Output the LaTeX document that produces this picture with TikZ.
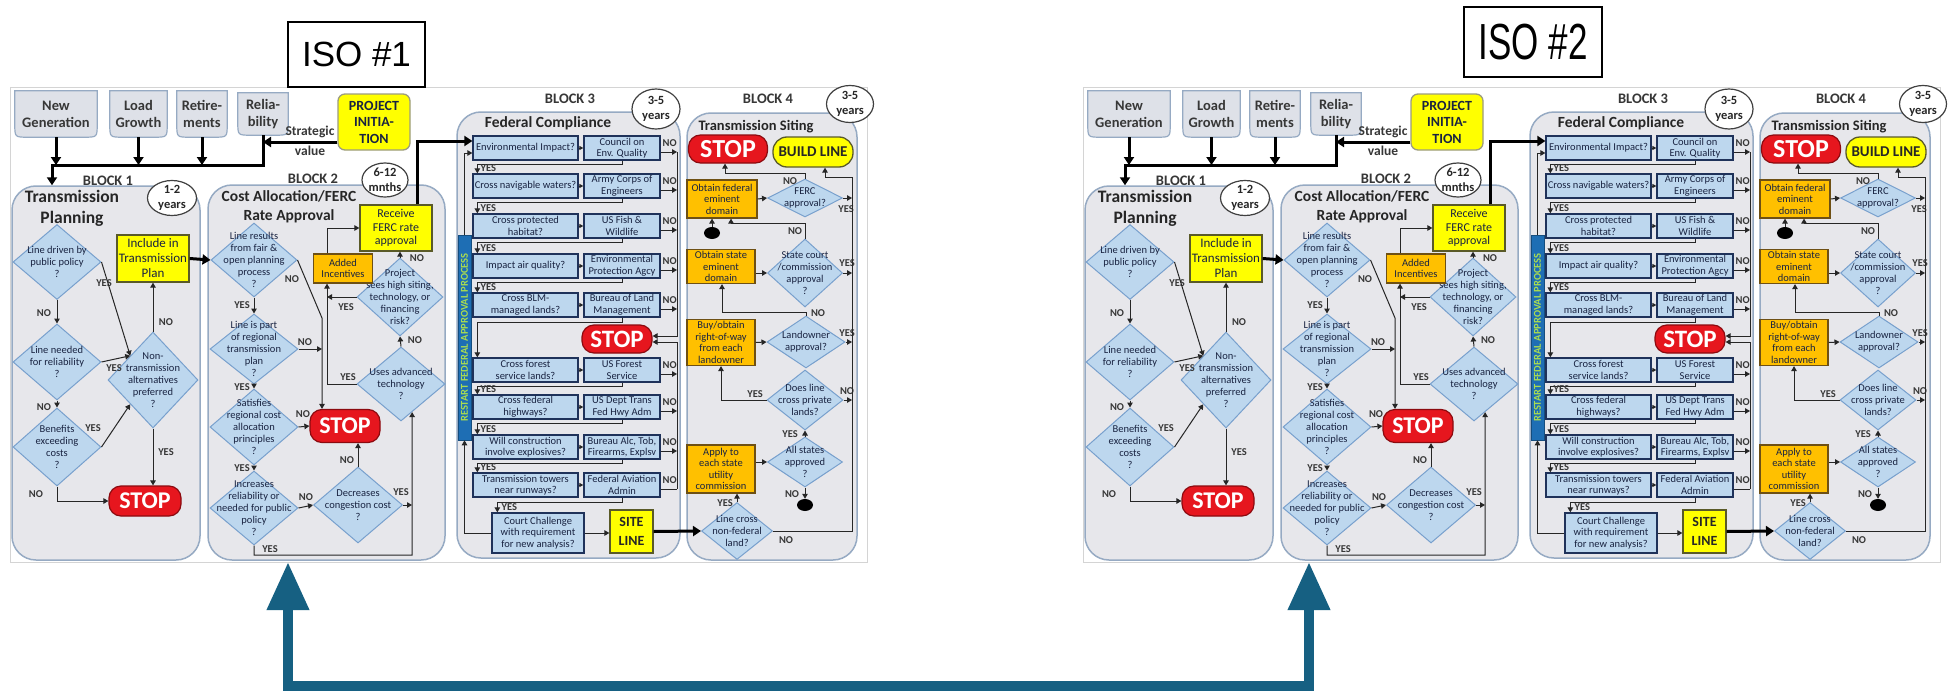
\documentclass[tikz,border=0pt]{standalone}
\usepackage{fontspec}
\setmainfont{Carlito}
\newfontfamily\isofont{Liberation Sans}
\usetikzlibrary{arrows.meta,shapes.geometric,calc}
\pgfdeclarelayer{background}
\pgfsetlayers{background,main}

\definecolor{panelfill}{RGB}{231,231,235}
\definecolor{paneledge}{RGB}{150,170,195}
\definecolor{tabfill}{RGB}{222,225,232}
\definecolor{diafill}{RGB}{189,215,238}
\definecolor{diaedge}{RGB}{120,160,205}
\definecolor{boxedge}{RGB}{31,50,90}
\definecolor{navytext}{RGB}{25,35,65}
\definecolor{labgray}{RGB}{55,55,55}
\definecolor{stopred}{RGB}{230,22,30}
\definecolor{stopedge}{RGB}{140,10,15}
\definecolor{ylw}{RGB}{255,255,0}
\definecolor{ylwedge}{RGB}{90,90,40}
\definecolor{orng}{RGB}{255,192,0}
\definecolor{orngedge}{RGB}{110,80,20}
\definecolor{barblue}{RGB}{30,110,180}
\definecolor{bartext}{RGB}{170,220,80}
\definecolor{linkblue}{RGB}{22,96,130}
\definecolor{framegray}{RGB}{212,212,212}

\newcommand\fsz[2]{\fontsize{#1}{#2}\selectfont}

% tab outline: square top, rounded bottom corners
\newcommand\tabframe[1]{%
  \draw[draw=paneledge, fill=tabfill, line width=1.2pt]
    (#1.north west) -- (#1.north east) -- ([yshift=13pt]#1.south east)
    .. controls (#1.south east) .. ([xshift=-13pt]#1.south east)
    -- ([xshift=13pt]#1.south west)
    .. controls (#1.south west) .. ([yshift=13pt]#1.south west) -- cycle;}

\tikzset{
  panel/.style={draw=paneledge, fill=panelfill, line width=1.5pt, rounded corners=24pt, inner sep=0pt},
  srctab/.style={inner sep=0pt, align=center, font=\bfseries\fsz{14.5}{17}, text=labgray},
  blk/.style={font=\bfseries\fsz{14.5}{17}, text=labgray, inner sep=0pt},
  ttl/.style={font=\bfseries\fsz{15.5}{19.5}, text=black!85, align=center, inner sep=0pt},
  yrs/.style={ellipse, draw=black!75, fill=white, line width=1.2pt, inner sep=0pt},
  ytx/.style={align=center, font=\bfseries\fsz{12.5}{15}, text=black!85, inner sep=0pt},
  dia/.style={diamond, draw=diaedge, fill=diafill, line width=1pt, inner sep=0pt},
  dtx/.style={align=center, font=\fsz{10.5}{12}, text=navytext, inner sep=0pt},
  qbox/.style={draw=boxedge, fill=diafill, line width=1.3pt, inner sep=1pt, align=center,
    font=\fsz{10.5}{11.5}, text=navytext, minimum height=24pt},
  ybox/.style={draw=ylwedge, fill=ylw, line width=1.3pt, inner sep=1pt, align=center, text=navytext},
  obox/.style={draw=orngedge, fill=orng, line width=1.2pt, inner sep=1pt, align=center,
    font=\fsz{10.5}{11.5}, text=navytext},
  stopsign/.style={draw=stopedge, fill=stopred, line width=1.2pt, rounded corners=12pt,
    text=white, font=\bfseries\fsz{24}{24}, inner sep=0pt},
  restartbar/.style={fill=barblue, draw=barblue!70!black, line width=0.6pt, rotate=90,
    minimum width=205pt, minimum height=13pt, inner sep=0pt, text=bartext, font=\bfseries\fsz{10.5}{11}},
  yn/.style={font=\bfseries\fsz{10.5}{11}, text=labgray, inner sep=0pt},
  ln/.style={draw=black!85, line width=1pt},
  arr/.style={ln, -{Triangle[width=5.5pt,length=5pt]}},
  arrs/.style={ln, -{Triangle[width=4pt,length=4pt]}},
  thk/.style={draw=black, line width=3pt},
  thkarr/.style={thk, -{Triangle[width=10pt,length=8pt]}},
  dotend/.style={ellipse, fill=black, minimum width=16pt, minimum height=12pt, inner sep=0pt},
  isobox/.style={draw=black, line width=1.6pt, fill=white, inner sep=0pt, font=\isofont\fsz{35}{40}},
  linkarrow/.style={draw=linkblue, line width=10pt,
    {Triangle[width=40pt,length=48pt]}-{Triangle[width=40pt,length=48pt]}},
}

% one complete transmission planning flow chart
\newcommand\isoflow{%
  \draw[framegray, line width=0.8pt] (10,87) rectangle (867,562);
  % block panels
  \node[panel, minimum width=188pt, minimum height=374pt] (p1) at (106,373) {};
  \node[panel, minimum width=237pt, minimum height=375pt] (p2) at (326.5,372.5) {};
  \node[panel, minimum width=223pt, minimum height=446pt] (p3) at (568.5,335) {};
  \node[panel, minimum width=170pt, minimum height=447pt] (p4) at (772,336.5) {};
  % input tabs
  \node[srctab, minimum width=82pt, minimum height=46pt] (ng) at (56,114) {New\\Generation};
  \node[srctab, minimum width=57pt, minimum height=46pt] (lg) at (138.5,114) {Load\\Growth};
  \node[srctab, minimum width=50pt, minimum height=46pt] (rt) at (202,114) {Retire-\\ments};
  \node[srctab, minimum width=50pt, minimum height=42pt] (rl) at (263,114) {Relia-\\bility};
  \begin{pgfonlayer}{background}
    \tabframe{ng}\tabframe{lg}\tabframe{rt}\tabframe{rl}
  \end{pgfonlayer}
  \node[ybox, rounded corners=7pt, draw=ylwedge!60, minimum width=72pt, minimum height=56pt,
    font=\bfseries\fsz{14}{16.5}] (pi) at (374,122) {PROJECT\\INITIA-\\TION};
  \node[inner sep=0pt, align=center, font=\bfseries\fsz{13.5}{20}, text=labgray] (sval) at (310,141) {Strategic\\value};
  \coordinate (busL) at (52,165);
  \coordinate (busR) at (263,165);
  \coordinate (sv) at (263,142);
  % block headings
  \node[blk] (bl1) at (108,181) {BLOCK 1};
  \node[blk] (bl2) at (313,179) {BLOCK 2};
  \node[blk] (bl3) at (570,99) {BLOCK 3};
  \node[blk] (bl4) at (768,99) {BLOCK 4};
  \node[yrs, minimum width=49pt, minimum height=35pt, label={[ytx]center:{1-2\\years}}] (y1) at (172,198) {};
  \node[yrs, minimum width=46pt, minimum height=34pt, label={[ytx]center:{6-12\\mnths}}] (y2) at (385,180) {};
  \node[yrs, minimum width=48pt, minimum height=40pt, label={[ytx]center:{3-5\\years}}] (y3) at (656,109) {};
  \node[yrs, minimum width=47pt, minimum height=37pt, label={[ytx]center:{3-5\\years}}] (y4) at (850,104) {};
  \node[ttl, font=\bfseries\fsz{17.5}{21}] (t1) at (72,208) {Transmission\\Planning};
  \node[ttl] (t2) at (289,207) {Cost Allocation/FERC\\Rate Approval};
  \node[ttl] (t3) at (548,123) {Federal Compliance};
  \node[ttl, font=\bfseries\fsz{14.5}{18}] (t4) at (756,127) {Transmission Siting};
  % block 1
  \node[ybox, minimum width=72pt, minimum height=47pt, font=\fsz{13}{15}] (inc) at (153,258.5) {Include in\\Transmission\\Plan};
  \node[dia, minimum width=88pt, minimum height=75pt, label={[dtx]center:{Line driven by\\public policy\\?}}] (d1) at (57,262) {};
  \node[dia, minimum width=88pt, minimum height=76pt, label={[dtx]center:{Line needed\\for reliability\\?}}] (d2) at (57,362) {};
  \node[dia, minimum width=88pt, minimum height=78pt, label={[dtx]center:{Benefits\\exceeding\\costs\\?}}] (d3) at (57,447) {};
  \node[dia, minimum width=90pt, minimum height=96pt, label={[dtx]center:{Non-\\transmission\\alternatives\\preferred\\?}}] (d4) at (153,380) {};
  \node[stopsign, minimum width=72pt, minimum height=30pt] (s1) at (145,501) {STOP};
  % block 2
  \node[dia, minimum width=86pt, minimum height=74pt, label={[dtx]center:{Line results\\from fair \&\\open planning\\process\\?}}] (d5) at (254,260) {};
  \node[dia, minimum width=88pt, minimum height=70pt, label={[dtx]center:{Line is part\\of regional\\transmission\\plan\\?}}] (d6) at (254,349) {};
  \node[dia, minimum width=88pt, minimum height=76pt, label={[dtx]center:{Satisfies\\regional cost\\allocation\\principles\\?}}] (d7) at (254,427) {};
  \node[dia, minimum width=88pt, minimum height=74pt, label={[dtx]center:{Increases\\reliability or\\needed for public\\policy\\?}}] (d8) at (254,508) {};
  \node[dia, minimum width=89pt, minimum height=76pt, label={[dtx]center:{Decreases\\congestion cost\\?}}] (d9) at (358,505) {};
  \node[dia, minimum width=88pt, minimum height=74pt, label={[dtx]center:{Uses advanced\\technology\\?}}] (d10) at (401,384) {};
  \node[dia, minimum width=86pt, minimum height=78pt, label={[dtx]center:{Project\\sees high siting,\\technology, or\\financing\\risk?}}] (d11) at (400,297) {};
  \node[stopsign, minimum width=70pt, minimum height=33pt] (s2) at (345,426) {STOP};
  \node[obox, minimum width=59pt, minimum height=29pt] (add) at (343,268.5) {Added\\Incentives};
  \node[ybox, minimum width=72pt, minimum height=46pt, font=\fsz{12}{13.5}] (ferc) at (396,228) {Receive\\FERC rate\\approval};
  % block 3
  \node[restartbar] (bar) at (464.5,337.5) {RESTART FEDERAL APPROVAL PROCESS};
  \node[qbox, minimum width=105pt] (ra1) at (525.5,148) {Environmental Impact?};
  \node[qbox, minimum width=76pt] (rb1) at (622,148) {Council on\\Env. Quality};
  \node[qbox, minimum width=105pt] (ra2) at (525.5,186) {Cross navigable waters?};
  \node[qbox, minimum width=76pt] (rb2) at (622,186) {Army Corps of\\Engineers};
  \node[qbox, minimum width=105pt] (ra3) at (525.5,226) {Cross protected\\habitat?};
  \node[qbox, minimum width=76pt] (rb3) at (622,226) {US Fish \&\\Wildlife};
  \node[qbox, minimum width=105pt] (ra4) at (525.5,266) {Impact air quality?};
  \node[qbox, minimum width=76pt] (rb4) at (622,266) {Environmental\\Protection Agcy};
  \node[qbox, minimum width=105pt] (ra5) at (525.5,305) {Cross BLM-\\managed lands?};
  \node[qbox, minimum width=76pt] (rb5) at (622,305) {Bureau of Land\\Management};
  \node[qbox, minimum width=105pt] (ra6) at (525.5,370) {Cross forest\\service lands?};
  \node[qbox, minimum width=76pt] (rb6) at (622,370) {US Forest\\Service};
  \node[qbox, minimum width=105pt] (ra7) at (525.5,407) {Cross federal\\highways?};
  \node[qbox, minimum width=76pt] (rb7) at (622,407) {US Dept Trans\\Fed Hwy Adm};
  \node[qbox, minimum width=105pt] (ra8) at (525.5,447) {Will construction\\involve explosives?};
  \node[qbox, minimum width=76pt] (rb8) at (622,447) {Bureau Alc, Tob,\\Firearms, Explsv};
  \node[qbox, minimum width=105pt] (ra9) at (525.5,485) {Transmission towers\\near runways?};
  \node[qbox, minimum width=76pt] (rb9) at (622,485) {Federal Aviation\\Admin};
  \node[stopsign, minimum width=70pt, minimum height=28pt, font=\bfseries\fsz{25}{25}] (s3) at (617,339) {STOP};
  \node[qbox, minimum width=92pt, minimum height=40pt] (court) at (538,533) {Court Challenge\\with requirement\\for new analysis?};
  \node[ybox, minimum width=43pt, minimum height=43pt, font=\bfseries\fsz{14}{19}, text=black!85] (site) at (631.5,531.5) {SITE\\LINE};
  \coordinate (cT) at (677,152);
  \coordinate (cB) at (677,485);
  % block 4
  \node[stopsign, minimum width=79pt, minimum height=28pt, font=\bfseries\fsz{26}{26}] (s4) at (728,149) {STOP};
  \node[ybox, rounded corners=14pt, minimum width=80pt, minimum height=30pt, font=\bfseries\fsz{15}{15}, text=black!85] (build) at (813,152) {BUILD LINE};
  \node[obox, minimum width=70pt, minimum height=38pt] (ofed) at (722,199) {Obtain federal\\eminent\\domain};
  \node[dia, minimum width=75pt, minimum height=38pt, label={[dtx]center:{FERC\\approval?}}] (dferc) at (805,198) {};
  \node[dotend] (dt1) at (712,233) {};
  \node[obox, minimum width=68pt, minimum height=34pt] (ostate) at (721,266.5) {Obtain state\\eminent\\domain};
  \node[dia, minimum width=75pt, minimum height=68pt, label={[dtx]center:{State court\\/commission\\approval\\?}}] (dstate) at (805,273) {};
  \node[obox, minimum width=68pt, minimum height=46pt] (obuy) at (721,342.5) {Buy/obtain\\right-of-way\\from each\\landowner};
  \node[dia, minimum width=78pt, minimum height=52pt, label={[dtx]center:{Landowner\\approval?}}] (dland) at (806,342) {};
  \node[dia, minimum width=76pt, minimum height=60pt, label={[dtx]center:{Does line\\cross private\\lands?}}] (dpriv) at (805,400) {};
  \node[dia, minimum width=75pt, minimum height=50pt, label={[dtx]center:{All states\\approved\\?}}] (dall) at (805,462) {};
  \node[obox, minimum width=68pt, minimum height=48pt] (oapply) at (721,469) {Apply to\\each state\\utility\\commission};
  \node[dotend] (dt2) at (805,505) {};
  \node[dia, minimum width=71pt, minimum height=57pt, label={[dtx]center:{Line cross\\non-federal\\land?}}] (dlc) at (737,531) {};
  \coordinate (k6) at (725,173);
  \coordinate (k7) at (825,177);
  \coordinate (k8) at (731,223);
  \coordinate (k9) at (722,312);
  \coordinate (rcT) at (852,177);
  \coordinate (rcB) at (852,531);
  % answer labels of blocks 1, 2 and 4
  \foreach \x/\y/\t [count=\i] in {104/283/YES, 44/313/NO, 114/368/YES, 44/407/NO, 93/428/YES,
      36/494/NO, 166/322/NO, 166/452/YES,
      242/305/YES, 242/387/YES, 242/468/YES, 292/279/NO, 305/342/NO, 303/414/NO, 306/497/NO,
      347/460/NO, 401/492/YES, 270/549/YES, 348/377/YES, 415/340/NO, 346/307/YES, 417/258/NO,
      790/181/NO, 846/209/YES, 795/231/NO, 847/263/YES, 818/313/NO, 847/333/YES, 847/391/NO,
      755/394/YES, 790/434/YES, 792/494/NO, 725/503/YES, 786/540/NO}
    {\node[yn] (ans\i) at (\x,\y) {\t};}
  % connectors: inputs
  \draw[thkarr] (ng.south) -- (ng.south |- busL);
  \draw[thkarr] (lg.south) -- (lg.south |- busL);
  \draw[thkarr] (rt.south) -- (rt.south |- busL);
  \draw[thkarr] (rl.south) -- (busR) -- (busL) -- (busL |- p1.north);
  \draw[thkarr] (pi.west |- sv) -- (sv);
  % connectors: block 1
  \draw[arr] (d1.south) -- (d2.north);
  \draw[arr] (d2.south) -- (d3.north);
  \draw[arr] (d1.east) -- (d4.north west);
  \draw[arr] (d2.east) -- (d4.north west);
  \draw[arr] (d3.east) -- (d4.south west);
  \draw[arr] (d3.south) |- (s1.west);
  \draw[arr] (d4.south) -- (d4.south |- s1.north);
  \draw[arr] (d4.north) -- (d4.north |- inc.south);
  \draw[thkarr] (inc.east) -- (d5.west);
  % connectors: block 2
  \coordinate (k1) at (322,318);
  \coordinate (k2) at (412,555);
  \coordinate (k3) at (327,228);
  \coordinate (k4) at (417,141);
  \draw[arr] (d5.south) -- (d6.north);
  \draw[arr] (d6.south) -- (d7.north);
  \draw[arr] (d7.south) -- (d8.north);
  \draw[arr] (d5.east) -- (k1) -- (k1 |- s2.north);
  \draw[arr] (d6.east) -- (d6.east -| k1);
  \draw[arr] (d7.east) -- (s2.west);
  \draw[arr] (d8.east) -- (d9.west);
  \draw[arr] (d9.north) -- (d9.north |- s2.south);
  \draw[arr] (d9.east) -- (d9.east -| k2);
  \draw[arr] (d8.south) |- (k2) -- ($(d10.south)!0.25!(d10.east)$);
  \draw[arr] (d10.north) -- (d11.south);
  \draw[arr] (d10.west) -| (k3 |- add.south);
  \draw[arr] (d11.west) -- (d11.west -| k3);
  \draw[arr] (k3 |- add.north) |- (ferc.west);
  \draw[arr] (d11.north) -- (d11.north |- ferc.south);
  \draw[thkarr] (ferc.north -| k4) -- (k4) -- (k4 -| ra1.west);
  % connectors: block 3
  \foreach \r in {1,...,9} {\draw[arrs] (ra\r.east) -- (rb\r.west);
    \node[yn] (no\r) at ([xshift=9pt,yshift=5pt]rb\r.east) {NO};}
  \foreach \r in {1,...,8} {\draw[arr] ([yshift=-4pt]rb\r.east) -- ([yshift=-4pt]rb\r.east -| cT);}
  \foreach \r/\s in {1/2,2/3,3/4,4/5,6/7,7/8,8/9} {
    \draw[arr] (rb\r.south) -- ++(0,4) -| ([xshift=5pt]ra\s.north west);
    \node[yn, anchor=west] (yes\r) at ([xshift=8pt,yshift=5pt]ra\s.north west) {YES};}
  \draw[arr] (rb5.south) -- ++(0,5) -| ([xshift=5pt]ra6.north west);
  \draw[arr] (rb9.south) -- ++(0,5) -| ([xshift=6pt]court.north west);
  \node[yn, anchor=west] (yes9) at ([xshift=10pt,yshift=5pt]court.north west) {YES};
  \draw[arr] (cT) |- ([yshift=3pt]s3.east);
  \draw[ln] ([yshift=-4pt]rb9.east) -- ([yshift=-4pt]rb9.east -| cB);
  \draw[arr] ([yshift=-4pt]rb9.east -| cB) |- ([yshift=-3pt]s3.east);
  \draw[arr] (court.east) -- (court.east -| site.west);
  \draw[arr] (court.west) -| (bar.west);
  \draw[arr] (bar.east) |- ([yshift=-5pt]ra1.west);
  \draw[thkarr] (site.east) -- (dlc.west);
  % connectors: block 4
  \draw[arr] (ofed.east) -- (dferc.west);
  \draw[arr] (dferc.north) |- (k6) -- (k6 |- s4.south);
  \draw[arr] (dlc.east) -- (rcB) -- (rcT) -- (k7) -- (k7 |- build.south);
  \draw[arr] (dferc.east) -- (dferc.east -| rcB);
  \draw[arr] (dstate.east) -- (dstate.east -| rcB);
  \draw[arr] (dland.east) -- (dland.east -| rcB);
  \draw[arr] (dpriv.east) -- (dpriv.east -| rcB);
  \draw[arr] (dt1) -- (dt1 |- ofed.south);
  \draw[arr] (dstate.north) |- (k8) -- (k8 |- ofed.south);
  \draw[arr] (dstate.west -| ostate.east) -- (dstate.west);
  \draw[arr] (dland.north) |- (k9) -- (k9 |- ostate.south);
  \draw[arr] (obuy.east) -- (dland.west);
  \draw[arr] (dpriv.west) -| (obuy.south);
  \draw[arr] (dall.north) -- (dpriv.south);
  \draw[arr] (dall.west -| oapply.east) -- (dall.west);
  \draw[arr] (dall.south) -- (dt2);
  \draw[arr] (dlc.north) -- (dlc.north |- oapply.south);
}

\begin{document}
\begin{tikzpicture}[x=1pt,y=-1pt]
  \begin{pgfonlayer}{background}
    \fill[white] (0,0) rectangle (1959,693);
  \end{pgfonlayer}
  \useasboundingbox (0,0) rectangle (1959,693);
  \begin{scope}[name prefix=L-]
    \isoflow
  \end{scope}
  \begin{scope}[xshift=1073pt, name prefix=R-]
    \isoflow
  \end{scope}
  \node[isobox, minimum width=137pt, minimum height=65pt] (iso1) at (356.5,54.5) {ISO \#1};
  \node[isobox, minimum width=138pt, minimum height=70pt] (iso2) at (1533,42) {\scalebox{1}[1.45]{ISO \#2}};
  % link between the two charts
  \coordinate (tipL) at (288,562);
  \coordinate (tipR) at (1309,562);
  \coordinate (baseL) at (288,686);
  \draw[linkarrow] (tipL) -- (baseL) -| (tipR);
\end{tikzpicture}
\end{document}
